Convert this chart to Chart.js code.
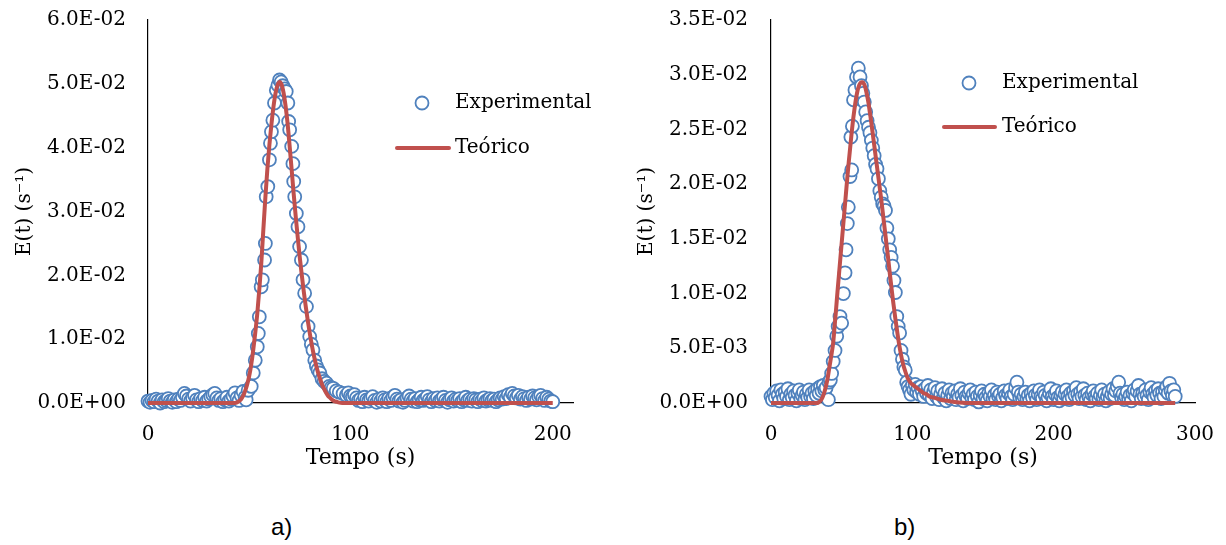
<!DOCTYPE html>
<html lang="pt">
<head>
  <meta charset="UTF-8">
  <title>E(t) - Experimental vs Teórico</title>
  <style>
    body {
      margin: 0;
      background: #ffffff;
      width: 1226px;
      height: 545px;
      position: relative;
      overflow: hidden;
    }
    .painel {
      position: absolute;
      top: 0;
    }
    .rotulo {
      position: absolute;
      top: 515px;
      font-family: "Liberation Sans", Arial, sans-serif;
      font-size: 24px;
      line-height: 1;
      color: #000;
    }
  </style>
</head>
<body>

  <canvas id="graficoA" class="painel" style="left:0px" width="600" height="483"></canvas>
  <canvas id="graficoB" class="painel" style="left:613px" width="613" height="483"></canvas>
  <div class="rotulo" style="left:271px">a)</div>
  <div class="rotulo" style="left:894px">b)</div>

  <script src="https://cdn.jsdelivr.net/npm/chart.js"></script>
  <script>
    // ---- a) dados experimentais ----
    const tempoExpA = [
      0,1,2,3,4,5,6,7,8,9,10,11,12,13,14,15,16,17,18,19,20,21,22,23,24,25,26,27,28,29,
      30,31,32,33,34,35,36,37,38,39,40,41,42,43,44,
      45,46,47,48,48.5,49.5,51,52,53,54,54.5,55,55.9,56.5,57.6,58,58.4,59.2,60,60.5,
      61,61.7,62.5,63.4,64.2,65,65.8,66.6,67.5,68.3,69.1,69.5,70,71,71.6,72,72.5,73.3,
      74.1,74.9,75.8,76.6,77.4,78.3,79.1,79.9,80.7,81.5,82.4,83.2,84,84.9,86,87,88.2,
      89.5,90.5,91.5,93,94.5,96.4,98,99,100,101,102,
      103,104,105,106,107,108,109,110,111,112,113,114,115,116,117,118,119,120,121,122,
      123,124,125,126,127,128,129,130,131,132,133,134,135,136,137,138,139,140,141,142,
      143,144,145,146,147,148,149,150,151,152,153,154,155,156,157,158,159,160,161,162,
      163,164,165,166,167,168,169,170,171,172,173,174,175,176,177,178,179,180,181,182,
      183,184,185,186,187,188,189,190,191,192,193,194,195,196,197,198,199,200
    ];
    const expA = [
      0.0003,0.0001,0.0004,0.0002,0.0006,0.0003,0.0000,0.0005,0.0002,0.0004,
      0.0007,0.0003,0.0001,0.0005,0.0002,0.0006,0.0004,0.0009,0.0015,0.0011,
      0.0006,0.0003,0.0008,0.0012,0.0005,0.0002,0.0007,0.0004,0.0009,0.0003,
      0.0006,0.0010,0.0013,0.0015,0.0008,0.0004,0.0007,0.0002,0.0005,0.0009,
      0.0003,0.0006,0.0011,0.0016,0.0008,
      0.0004,0.0012,0.0018,0.0009,0.0005,0.0020,0.0026,0.0047,0.0067,0.0088,
      0.0109,0.0135,0.0182,0.0193,0.0224,0.0250,0.0323,0.0339,0.0381,0.0407,
      0.0425,0.0443,0.0470,0.0490,0.0498,0.0506,0.0503,0.0497,0.0492,0.0488,
      0.0470,0.0441,0.0428,0.0402,0.0375,0.0347,0.0323,0.0297,0.0276,0.0245,
      0.0224,0.0193,0.0172,0.0151,0.0120,0.0104,0.0092,0.0083,0.0067,0.0058,
      0.0052,0.0047,0.0038,0.0034,0.0031,0.0026,0.0024,0.0023,0.0019,0.0017,
      0.0015,0.0012,0.0016,0.0011,0.0010,0.0013,
      0.0008,0.0004,0.0006,0.0002,0.0009,0.0005,0.0003,0.0007,0.0010,0.0004,
      0.0001,0.0006,0.0003,0.0008,0.0005,0.0002,0.0007,0.0004,0.0009,0.0012,
      0.0006,0.0003,0.0005,0.0001,0.0004,0.0008,0.0011,0.0006,0.0003,0.0007,
      0.0002,0.0005,0.0009,0.0004,0.0006,0.0010,0.0005,0.0002,0.0007,0.0004,
      0.0008,0.0003,0.0006,0.0009,0.0004,0.0001,0.0005,0.0008,0.0003,0.0006,
      0.0004,0.0007,0.0002,0.0005,0.0009,0.0004,0.0006,0.0003,0.0007,0.0005,
      0.0002,0.0006,0.0004,0.0008,0.0003,0.0005,0.0007,0.0004,0.0006,0.0002,
      0.0005,0.0008,0.0006,0.0010,0.0007,0.0013,0.0009,0.0015,0.0011,0.0008,
      0.0012,0.0006,0.0010,0.0007,0.0004,0.0009,0.0006,0.0011,0.0008,0.0005,
      0.0010,0.0012,0.0007,0.0004,0.0009,0.0006,0.0003,0.0002
    ];

    // ---- a) modelo teórico ----
    const tempoTeoA = [
      0,40,42,43,44,45,46,47,48,49,50,51,52,53,54,55,56,57,58,59,60,61,62,63,64,65,
      66,67,68,69,70,71,72,73,74,75,76,77,78,79,80,81,82,83,84,85,86,87,88,89,90,
      91,92,93,94,96,120,150,200
    ];
    const teoA = [
      0,0,0,0,0.0001,0.0003,0.0006,0.0011,0.0019,0.0029,0.0042,0.0060,0.0083,0.0110,
      0.0140,0.0178,0.0220,0.0272,0.0322,0.0367,0.0405,0.0437,0.0464,0.0485,0.0498,
      0.0503,0.0499,0.0486,0.0465,0.0437,0.0402,0.0365,0.0327,0.0292,0.0259,0.0228,
      0.0200,0.0174,0.0150,0.0128,0.0108,0.0090,0.0074,0.0060,0.0048,0.0038,0.0029,
      0.0022,0.0016,0.0011,0.0008,0.0005,0.0003,0.0002,0.0001,0,0,0,0
    ];

    // ---- b) dados experimentais ----
    const tempoExpB = [
      0,1,2,3,4,5,6,7,8,9,10,11,12,13,14,15,16,17,18,19,20,21,22,23,24,25,26,27,28,29,
      30,31,32,33,34,35,36,37,38,
      39,40.6,41,42,42.9,44,45.3,46.5,47.5,48.8,50,51.2,52.4,53.1,54,54.7,55.9,56.5,
      57.1,57.6,58.4,59.4,60.5,61.8,63,64,65,66,67,68,69,70,71,72,73,74,75,76,77,78,
      79,80,81,82,83,84,85,86,87,88,89,90,91,92,93,94,95,96,97,98,99,
      100,101,102,103,104,105,106,107,108,109,110,111,112,113,114,115,116,117,118,119,
      120,121,122,123,124,125,126,127,128,129,130,131,132,133,134,135,136,137,138,139,
      140,141,142,143,144,145,146,147,148,149,150,151,152,153,154,155,156,157,158,159,
      160,161,162,163,164,165,166,167,168,169,170,171,172,173,174,175,176,177,178,179,
      180,181,182,183,184,185,186,187,188,189,190,191,192,193,194,195,196,197,198,199,
      200,201,202,203,204,205,206,207,208,209,210,211,212,213,214,215,216,217,218,219,
      220,221,222,223,224,225,226,227,228,229,230,231,232,233,234,235,236,237,238,239,
      240,241,242,243,244,245,246,247,248,249,250,251,252,253,254,255,256,257,258,259,
      260,261,262,263,264,265,266,267,268,269,270,271,272,273,274,275,276,277,278,279,
      280,281,282,283,284,285,286
    ];
    const expB = [
      0.0006,0.0003,0.0009,0.0005,0.0011,0.0007,0.0002,0.0012,0.0008,0.0004,
      0.0010,0.0006,0.0013,0.0003,0.0008,0.0005,0.0011,0.0007,0.0002,0.0009,
      0.0012,0.0004,0.0007,0.0010,0.0003,0.0008,0.0005,0.0012,0.0006,0.0009,
      0.0004,0.0011,0.0007,0.0013,0.0009,0.0015,0.0011,0.0016,0.0012,
      0.0014,0.0003,0.0019,0.0021,0.0027,0.0038,0.0048,0.0061,0.0070,0.0079,
      0.0073,0.0100,0.0119,0.0140,0.0164,0.0179,0.0207,0.0243,0.0213,0.0253,
      0.0277,0.0286,0.0298,0.0306,0.0298,0.0290,0.0283,0.0275,0.0266,0.0258,
      0.0252,0.0247,0.0240,0.0233,0.0226,0.0218,0.0214,0.0205,0.0194,0.0188,
      0.0182,0.0180,0.0176,0.0160,0.0150,0.0140,0.0133,0.0125,0.0112,0.0101,
      0.0079,0.0070,0.0064,0.0048,0.0040,0.0033,0.0030,0.0019,0.0015,0.0012,
      0.0008,
      0.0016,0.0012,0.0017,0.0010,0.0014,0.0008,0.0015,0.0011,0.0006,0.0013,
      0.0009,0.0016,0.0007,0.0012,0.0004,0.0010,0.0014,0.0006,0.0011,0.0003,
      0.0008,0.0013,0.0005,0.0009,0.0002,0.0007,0.0012,0.0004,0.0009,0.0006,
      0.0011,0.0003,0.0008,0.0005,0.0013,0.0007,0.0002,0.0010,0.0006,0.0004,
      0.0009,0.0012,0.0005,0.0008,0.0003,0.0010,0.0006,0.0001,0.0007,0.0011,
      0.0004,0.0008,0.0005,0.0002,0.0009,0.0006,0.0012,0.0004,0.0007,0.0003,
      0.0010,0.0006,0.0008,0.0002,0.0005,0.0011,0.0007,0.0004,0.0009,0.0012,
      0.0006,0.0003,0.0008,0.0014,0.0019,0.0010,0.0005,0.0008,0.0003,0.0006,
      0.0010,0.0004,0.0007,0.0002,0.0009,0.0005,0.0011,0.0007,0.0003,0.0008,
      0.0012,0.0006,0.0004,0.0010,0.0007,0.0002,0.0005,0.0009,0.0013,0.0006,
      0.0003,0.0008,0.0011,0.0005,0.0002,0.0007,0.0010,0.0004,0.0008,0.0012,
      0.0006,0.0003,0.0009,0.0005,0.0011,0.0007,0.0014,0.0008,0.0004,0.0010,
      0.0006,0.0013,0.0007,0.0003,0.0009,0.0005,0.0002,0.0008,0.0011,0.0006,
      0.0004,0.0009,0.0003,0.0007,0.0012,0.0005,0.0008,0.0002,0.0006,0.0010,
      0.0004,0.0008,0.0013,0.0007,0.0011,0.0015,0.0019,0.0009,0.0005,0.0008,
      0.0003,0.0006,0.0010,0.0004,0.0007,0.0002,0.0009,0.0012,0.0006,0.0011,
      0.0016,0.0008,0.0004,0.0009,0.0006,0.0012,0.0007,0.0003,0.0010,0.0014,
      0.0008,0.0005,0.0011,0.0007,0.0013,0.0009,0.0004,0.0010,0.0006,0.0012,
      0.0015,0.0009,0.0018,0.0011,0.0007,0.0012,0.0006
    ];

    // ---- b) modelo teórico ----
    const tempoTeoB = [
      0,30,33,34,35,36,37,38,39,40,41,42,43,44,45,46,47,48,49,50,51,52,53,54,55,56,57,
      58,59,60,61,62,63,64,65,66,67,68,69,70,71,72,73,74,75,76,77,78,79,80,81,82,83,
      84,85,86,87,88,89,90,91,92,93,94,95,96,97,98,99,100,102,104,106,108,110,112,115,
      120,125,130,140,200,286
    ];
    const teoB = [
      0,0,0,0.0001,0.0002,0.0004,0.0007,0.0011,0.0016,0.0022,0.0030,0.0038,0.0046,
      0.0055,0.0070,0.0085,0.0101,0.0116,0.0131,0.0146,0.0161,0.0176,0.0191,0.0206,
      0.0220,0.0233,0.0246,0.0258,0.0268,0.0277,0.0284,0.0289,0.0292,0.0293,0.0293,
      0.0291,0.0287,0.0281,0.0274,0.0265,0.0256,0.0246,0.0236,0.0226,0.0216,0.0206,
      0.0196,0.0186,0.0175,0.0164,0.0153,0.0142,0.0131,0.0119,0.0108,0.0097,0.0087,
      0.0077,0.0068,0.0059,0.0051,0.0044,0.0038,0.0033,0.0029,0.0025,0.0022,0.0020,
      0.0018,0.0017,0.0015,0.0013,0.0011,0.0009,0.0008,0.0006,0.0005,0.0003,0.0002,
      0.0001,0,0,0
    ];

    // eixos
    const ticksXA = [0, 100, 200];
    const ticksYA = [0, 0.01, 0.02, 0.03, 0.04, 0.05, 0.06];
    const ticksXB = [0, 100, 200, 300];
    const ticksYB = [0, 0.005, 0.01, 0.015, 0.02, 0.025, 0.03, 0.035];

    const AZUL = '#4F81BD';
    const VERMELHO = '#C0504D';
    const SERIF = '"DejaVu Serif", "Liberation Serif", serif';

    Chart.defaults.color = '#000';
    Chart.defaults.font.family = SERIF;

    function formatoE(v) {
      if (Math.abs(v) < 1e-12) return '0.0E+00';
      const [m, e] = v.toExponential(1).split('e');
      const n = parseInt(e, 10);
      return m + 'E' + (n < 0 ? '-' : '+') + String(Math.abs(n)).padStart(2, '0');
    }

    function pontos(xs, ys) {
      return xs.map((x, i) => ({ x: x, y: ys[i] }));
    }

    // legenda desenhada dentro da área do gráfico
    const legendaInterna = {
      id: 'legendaInterna',
      afterDraw(chart, args, opts) {
        const ctx = chart.ctx;
        ctx.save();
        ctx.beginPath();
        ctx.arc(opts.circuloX, opts.circuloY, 6.5, 0, Math.PI * 2);
        ctx.fillStyle = '#fff';
        ctx.fill();
        ctx.lineWidth = 1.8;
        ctx.strokeStyle = AZUL;
        ctx.stroke();

        ctx.beginPath();
        ctx.moveTo(opts.linhaX1, opts.linhaY);
        ctx.lineTo(opts.linhaX2, opts.linhaY);
        ctx.lineWidth = 4;
        ctx.lineCap = 'round';
        ctx.strokeStyle = VERMELHO;
        ctx.stroke();

        ctx.fillStyle = '#000';
        ctx.font = '20px ' + SERIF;
        ctx.textBaseline = 'middle';
        ctx.textAlign = 'left';
        ctx.fillText(chart.data.datasets[1].label, opts.textoX, opts.circuloY);
        ctx.fillText(chart.data.datasets[0].label, opts.textoX, opts.linhaY);
        ctx.restore();
      }
    };

    function criarGrafico(id, cfg) {
      const ctx = document.getElementById(id).getContext('2d');
      return new Chart(ctx, {
        type: 'scatter',
        data: {
          datasets: [
            {
              label: 'Teórico',
              data: pontos(cfg.tTeo, cfg.teo),
              showLine: true,
              borderColor: VERMELHO,
              borderWidth: 4,
              pointRadius: 0,
              cubicInterpolationMode: 'monotone',
              clip: false,
              order: 0
            },
            {
              label: 'Experimental',
              data: pontos(cfg.tExp, cfg.exp),
              showLine: false,
              pointRadius: 6.5,
              pointBorderWidth: 1.8,
              pointBorderColor: AZUL,
              pointBackgroundColor: '#fff',
              clip: false,
              order: 1
            }
          ]
        },
        options: {
          responsive: false,
          animation: false,
          layout: { padding: { left: 0, right: cfg.padDir, top: 20, bottom: 0 } },
          plugins: {
            legend: { display: false },
            tooltip: { enabled: false },
            legendaInterna: cfg.legenda
          },
          scales: {
            x: {
              type: 'linear',
              min: 0,
              max: cfg.xMax,
              grid: { display: false, drawTicks: false },
              border: { display: true, color: '#000', width: 1.2 },
              ticks: { padding: 20, maxRotation: 0, font: { size: 20 } },
              afterBuildTicks(scale) { scale.ticks = cfg.ticksX.map(v => ({ value: v })); },
              afterFit(scale) {
                scale.height = 80;
                scale.paddingLeft = 0;
                scale.paddingRight = 0;
              },
              title: {
                display: true,
                text: 'Tempo (s)',
                font: { size: 22 },
                padding: { top: 0, bottom: 12 }
              }
            },
            y: {
              type: 'linear',
              min: 0,
              max: cfg.yMax,
              grid: { display: false, drawTicks: false },
              border: { display: true, color: '#000', width: 1.2 },
              ticks: {
                padding: cfg.padTick,
                font: { size: 20 },
                callback: v => formatoE(v)
              },
              afterBuildTicks(scale) { scale.ticks = cfg.ticksY.map(v => ({ value: v })); },
              afterFit(scale) {
                scale.width = cfg.larguraY;
                scale.paddingTop = 12;
                scale.paddingBottom = 12;
              },
              title: {
                display: true,
                text: 'E(t) (s⁻¹)',
                font: { size: 20 },
                padding: { top: cfg.padTitulo, bottom: 0 }
              }
            }
          }
        },
        plugins: [legendaInterna]
      });
    }

    window.onload = function () {
      criarGrafico('graficoA', {
        tExp: tempoExpA, exp: expA, tTeo: tempoTeoA, teo: teoA,
        ticksX: ticksXA, ticksY: ticksYA, xMax: 210, yMax: 0.06,
        larguraY: 148, padDir: 27, padTick: 22, padTitulo: 13,
        legenda: { circuloX: 422, circuloY: 103, linhaX1: 397, linhaX2: 449, linhaY: 148, textoX: 455 }
      });
      criarGrafico('graficoB', {
        tExp: tempoExpB, exp: expB, tTeo: tempoTeoB, teo: teoB,
        ticksX: ticksXB, ticksY: ticksYB, xMax: 300, yMax: 0.035,
        larguraY: 158, padDir: 31, padTick: 23, padTitulo: 22,
        legenda: { circuloX: 356, circuloY: 83, linhaX1: 331, linhaX2: 382, linhaY: 127, textoX: 389 }
      });
    };
  </script>
</body>
</html>
